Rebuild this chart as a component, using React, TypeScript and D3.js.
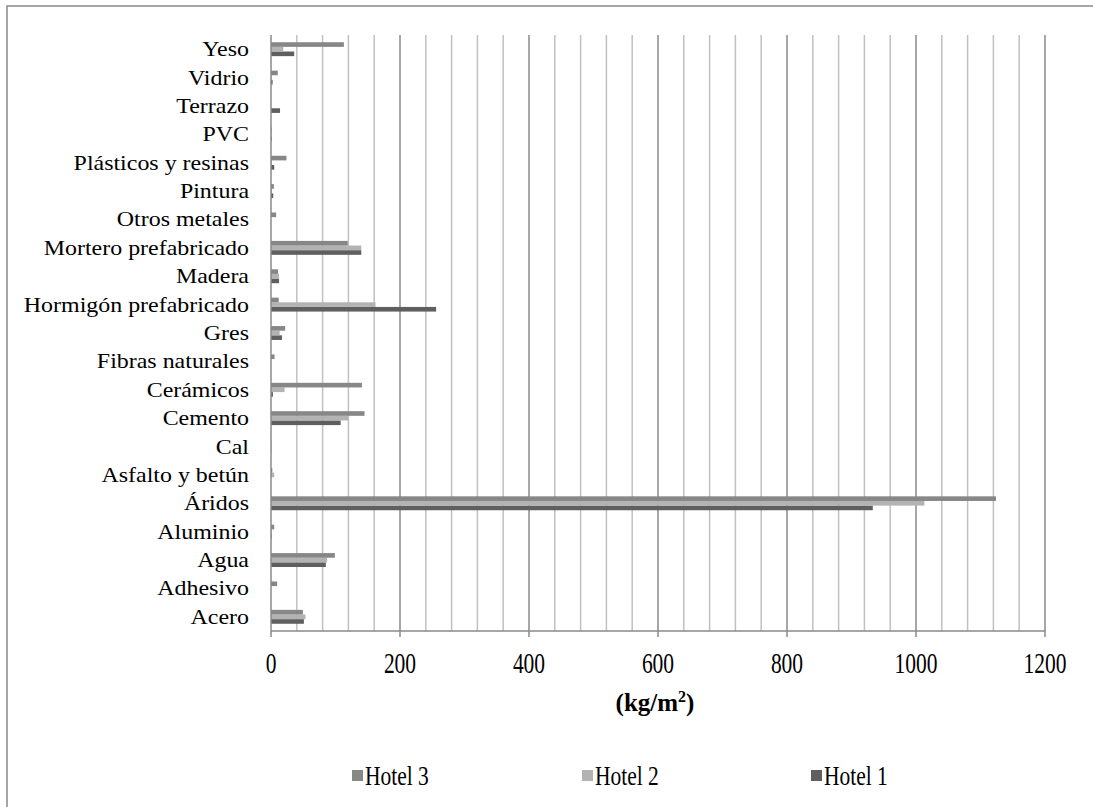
import React from "react";
import * as d3 from "d3";

const categories = [
  "Acero", "Adhesivo", "Agua", "Aluminio", "Áridos", "Asfalto y betún", "Cal",
  "Cemento", "Cerámicos", "Fibras naturales", "Gres", "Hormigón prefabricado",
  "Madera", "Mortero prefabricado", "Otros metales", "Pintura",
  "Plásticos y resinas", "PVC", "Terrazo", "Vidrio", "Yeso",
];
const hotel1 = [51, 0, 85, 1, 933, 0, 0.3, 108, 3, 0, 17, 256, 12.5, 140, 0, 3.5, 5, 1, 14, 2.5, 36];
const hotel2 = [53.5, 0, 87, 1, 1013, 5, 0.5, 120, 21, 0, 13.5, 162, 12.5, 140, 0, 1.5, 1.5, 0.5, 0, 1, 19];
const hotel3 = [49.5, 9.5, 99, 5, 1124, 2, 0.5, 145, 141, 5.5, 22, 12, 11, 119, 8, 4.5, 24, 1, 0, 10.5, 113];
const seriesNames = ["Hotel 1", "Hotel 2", "Hotel 3"];
const seriesColors = ["#5f5f5f", "#b3b3b3", "#878787"];
const xTicks = [0, 200, 400, 600, 800, 1000, 1200];
const xTitle = "(kg/m";

export default function App() {
  const W = 1093, H = 807;
  const left = 271, right = 1045, top = 35, bottom = 631;
  const x = d3.scaleLinear().domain([0, 1200]).range([left, right]);
  const y = d3.scaleBand<string>().domain([...categories].reverse()).range([top, bottom]).paddingInner(0.51).paddingOuter(0.255);
  const sub = d3.scaleBand<string>().domain(["Hotel 3", "Hotel 2", "Hotel 1"]).range([0, y.bandwidth()]);
  const series = [hotel1, hotel2, hotel3];
  const minor = d3.range(40, 1201, 40).filter((v) => v % 200 !== 0);
  const tf: React.CSSProperties = { fontFamily: "Liberation Serif, serif" };
  const legend = [
    { name: "Hotel 3", color: seriesColors[2], x: 352 },
    { name: "Hotel 2", color: seriesColors[1], x: 582 },
    { name: "Hotel 1", color: seriesColors[0], x: 811 },
  ];
  return (
    <svg width={W} height={H} style={{ position: "absolute", left: 0, top: 0, background: "#fff" }}>
      <rect x={7} y={6} width={1200} height={1000} fill="#fff" stroke="#898989" strokeWidth={1.5} />
      {minor.map((v) => (
        <line key={"m" + v} x1={x(v)} x2={x(v)} y1={top} y2={bottom} stroke="#c0c0c0" strokeWidth={1.5} />
      ))}
      {xTicks.slice(1).map((v) => (
        <line key={"M" + v} x1={x(v)} x2={x(v)} y1={top} y2={bottom + 6} stroke="#8a8a8a" strokeWidth={1.5} />
      ))}
      {series.map((vals, si) =>
        categories.map((c, ci) => (
          <rect
            key={si + "-" + ci}
            x={x(0)}
            y={(y(c) as number) + (sub(seriesNames[si]) as number)}
            width={Math.max(0, x(vals[ci]) - x(0))}
            height={sub.bandwidth()}
            fill={seriesColors[si]}
          />
        ))
      )}
      <line x1={x(0)} x2={x(0)} y1={top} y2={bottom + 6} stroke="#8a8a8a" strokeWidth={1.5} />
      <line x1={x(0)} x2={right} y1={bottom} y2={bottom} stroke="#8a8a8a" strokeWidth={1.5} />
      {categories.map((c) => (
        <text
          key={c}
          style={tf}
          transform={`translate(249,${(y(c) as number) + y.bandwidth() / 2 + 7}) scale(1.14,1)`}
          textAnchor="end"
          fontSize={21}
          fill="#000"
        >
          {c}
        </text>
      ))}
      {xTicks.map((v) => (
        <text key={"t" + v} style={tf} transform={`translate(${x(v)},673) scale(1,1.4)`} textAnchor="middle" fontSize={21.5} fill="#000">
          {v}
        </text>
      ))}
      <text style={tf} x={655} y={711} textAnchor="middle" fontSize={25} fontWeight="bold" fill="#000">
        {xTitle}
        <tspan fontSize={16} dy={-9}>2</tspan>
        <tspan dy={9}>)</tspan>
      </text>
      {legend.map((l) => (
        <g key={l.name}>
          <rect x={l.x} y={770} width={11} height={11} fill={l.color} />
          <text style={tf} transform={`translate(${l.x + 13},785) scale(1,1.25)`} fontSize={21.5} fill="#000">{l.name}</text>
        </g>
      ))}
    </svg>
  );
}
